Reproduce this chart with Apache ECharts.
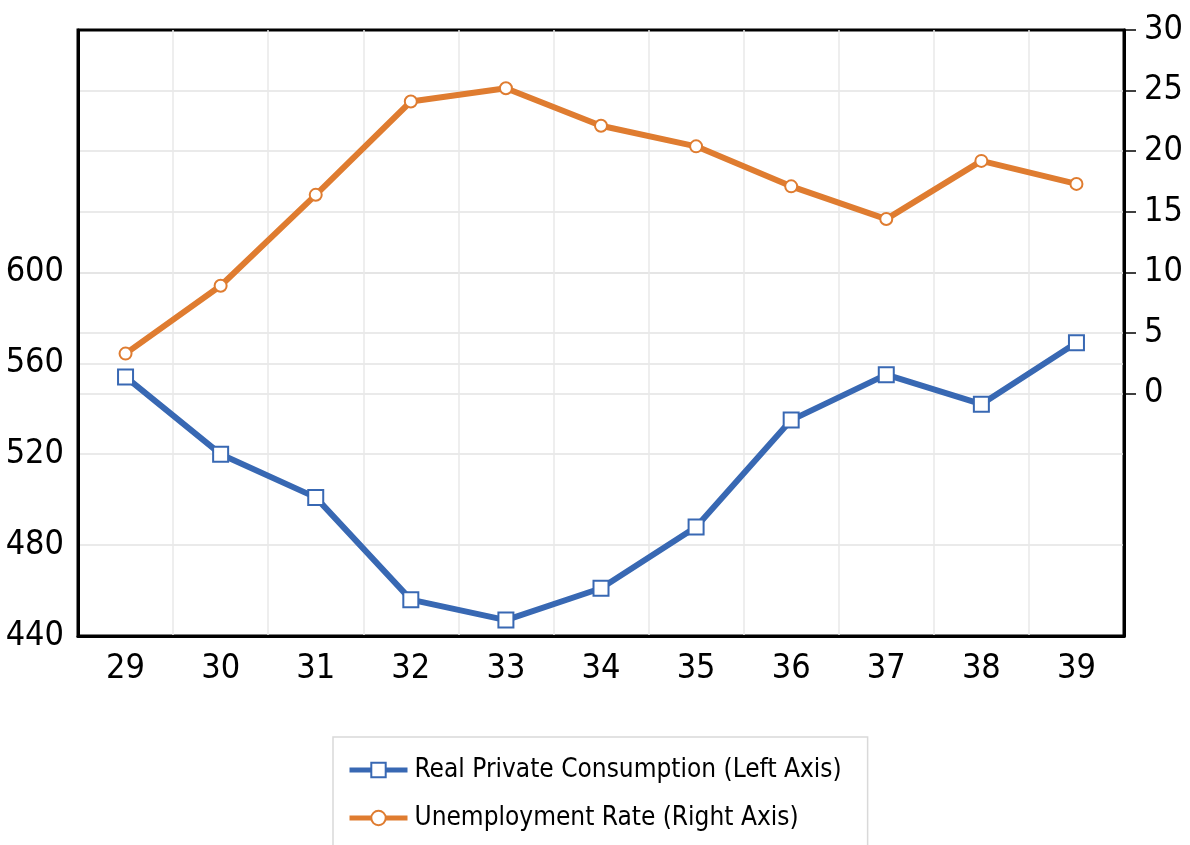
<!DOCTYPE html>
<html>
<head>
<meta charset="utf-8">
<script src="https://cdn.jsdelivr.net/npm/echarts@6/dist/echarts.min.js"></script>
<style>
  html, body { margin: 0; padding: 0; background: #fff; }
  #chart { width: 1190px; height: 845px; }
</style>
</head>
<body>
<div id="chart"></div>
<script>
const categories = ['29', '30', '31', '32', '33', '34', '35', '36', '37', '38', '39'];
const consumption = [554, 520, 501, 456, 447, 461, 488, 535, 555, 542, 569];
const unemployment = [3.3, 8.9, 16.4, 24.1, 25.2, 22.1, 20.4, 17.1, 14.4, 19.2, 17.3];
const leftTicks = [440, 480, 520, 560, 600];
const rightTicks = [0, 5, 10, 15, 20, 25, 30];

const FONT = '"DejaVu Sans Condensed", Lato, sans-serif';
const BLUE = '#3868b3';
const ORANGE = '#df7c30';

const chart = echarts.init(document.getElementById('chart'));
chart.setOption({
  animation: false,
  textStyle: { fontFamily: FONT },
  grid: {
    left: 78, right: 66, top: 30, bottom: 209,
    show: true, borderColor: '#000', borderWidth: 3, backgroundColor: 'transparent'
  },
  legend: {
    orient: 'vertical',
    left: 333, top: 737,
    height: 130,
    padding: [20, 26, 17, 14],
    borderColor: '#d9d9d9', borderWidth: 1.5,
    itemWidth: 58, itemHeight: 18, itemGap: 22,
    lineStyle: { width: 5 },
    textStyle: { fontFamily: FONT, fontSize: 26, color: '#000', padding: [0, 0, 0, 2] },
    data: ['Real Private Consumption (Left Axis)', 'Unemployment Rate (Right Axis)']
  },
  xAxis: {
    type: 'category',
    data: categories,
    boundaryGap: true,
    axisLine: { onZero: false, lineStyle: { color: '#000', width: 3 } },
    axisTick: { show: false },
    axisLabel: { fontFamily: FONT, fontSize: 34, color: '#000', margin: 16 },
    splitLine: { show: true, lineStyle: { color: '#e8e8e8', width: 1.5 } }
  },
  yAxis: [
    {
      type: 'value', position: 'left',
      min: 440, max: 706.67,
      axisLine: { show: true, lineStyle: { color: '#000', width: 3 } },
      axisTick: { show: false, customValues: leftTicks },
      axisLabel: { customValues: leftTicks, fontFamily: FONT, fontSize: 34, color: '#000', margin: 14, padding: [0, 0, 12, 0] },
      splitLine: { show: true, showMinLine: false, lineStyle: { color: '#e3e3e3', width: 1.5 } }
    },
    {
      type: 'value', position: 'right',
      min: -20, max: 30,
      axisLine: { show: true, lineStyle: { color: '#000', width: 3 } },
      axisTick: { show: true, customValues: rightTicks, inside: false, length: 12, lineStyle: { color: '#000', width: 1.5 } },
      axisLabel: { customValues: rightTicks, fontFamily: FONT, fontSize: 34, color: '#000', margin: 20, padding: [0, 0, 12, 0] },
      splitLine: { show: true, showMaxLine: false, lineStyle: { color: '#e3e3e3', width: 1.5 } }
    }
  ],
  series: [
    {
      name: 'Unemployment Rate (Right Axis)',
      type: 'line', yAxisIndex: 1,
      data: unemployment,
      symbol: 'emptyCircle', symbolSize: 12,
      lineStyle: { color: ORANGE, width: 6 },
      itemStyle: { color: ORANGE, borderColor: ORANGE, borderWidth: 3 },
      z: 3
    },
    {
      name: 'Real Private Consumption (Left Axis)',
      type: 'line', yAxisIndex: 0,
      data: consumption,
      symbol: 'emptyRect', symbolSize: 15,
      lineStyle: { color: BLUE, width: 6 },
      itemStyle: { color: BLUE, borderColor: BLUE, borderWidth: 3 },
      z: 4
    }
  ]
});
</script>
</body>
</html>
